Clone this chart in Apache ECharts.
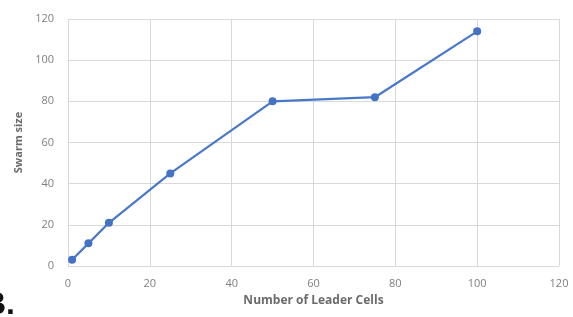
<!DOCTYPE html>
<html><head><meta charset="utf-8">
<script src="https://cdn.jsdelivr.net/npm/echarts@6/dist/echarts.min.js"></script>
<style>html,body{margin:0;padding:0;background:#fff}#c{width:573px;height:317px}</style>
</head><body><div id="c"></div>
<script>
const leaderCells = [1, 5, 10, 25, 50, 75, 100];
const swarmSize = [3, 11, 21, 45, 80, 82, 114];
const xTicks = [0, 20, 40, 60, 80, 100, 120];
const yTicks = [0, 20, 40, 60, 80, 100, 120];

const chart = echarts.init(document.getElementById('c'));
const gridColor = '#d9d9d9';
const labelColor = '#7f7f7f';
chart.setOption({
  animation: false,
  grid: {left: 68, right: 14, top: 19, bottom: 51},
  xAxis: {
    type: 'value', min: xTicks[0], max: xTicks[xTicks.length-1], interval: 20,
    name: 'Number of Leader Cells', nameLocation: 'middle', nameGap: 29,
    nameTextStyle: {color: '#6b6b6b', fontSize: 12, fontWeight: 'bold', fontFamily: 'Open Sans'},
    axisLine: {show: false}, axisTick: {show: false},
    axisLabel: {color: labelColor, fontSize: 11, margin: 12, fontFamily: 'Open Sans'},
    splitLine: {show: true, lineStyle: {color: gridColor, width: 1}}
  },
  yAxis: {
    type: 'value', min: yTicks[0], max: yTicks[yTicks.length-1], interval: 20,
    name: 'Swarm size', nameLocation: 'middle', nameGap: 42,
    nameTextStyle: {color: '#6b6b6b', fontSize: 11, fontWeight: 'bold', fontFamily: 'Open Sans'},
    axisLine: {show: false}, axisTick: {show: false},
    axisLabel: {color: labelColor, fontSize: 11, margin: 14, fontFamily: 'Open Sans'},
    splitLine: {show: true, lineStyle: {color: gridColor, width: 1}}
  },
  series: [{
    type: 'line',
    data: leaderCells.map((x, i) => [x, swarmSize[i]]),
    symbol: 'circle', symbolSize: 8,
    lineStyle: {color: '#4a78c8', width: 2.2},
    itemStyle: {color: '#4472c4'}
  }],
  graphic: [{
    type: 'text', left: -17, top: 289,
    style: {text: 'B.', font: 'bold 32px "Liberation Sans"', fill: '#111'}
  }]
});
</script></body></html>
